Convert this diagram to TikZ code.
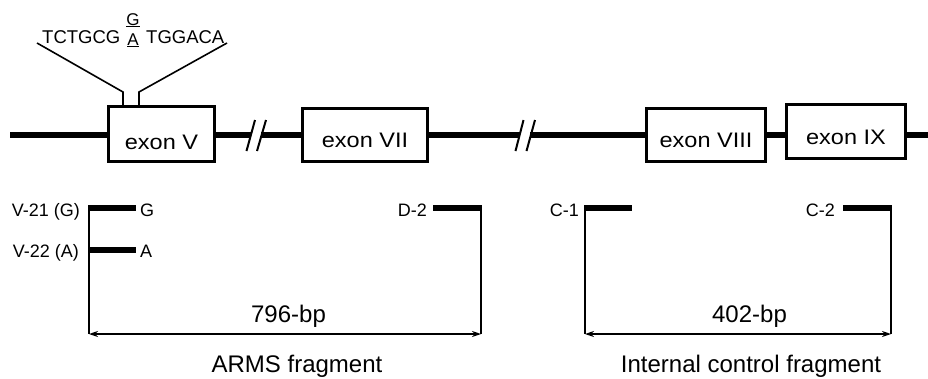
\documentclass[tikz,border=0pt]{standalone}
\usepackage{fontspec}
\setmainfont{Liberation Sans}
\usetikzlibrary{arrows.meta,calc}
\begin{document}
\begin{tikzpicture}[x=1pt,y=-1pt,
  exonbox/.style={draw, line width=3.5pt, fill=white, inner sep=0pt},
  exonlabel/.style={inner sep=0pt, font=\fontsize{21}{22}\selectfont},
  mainline/.style={line width=5.5pt},
  slash/.style={line width=2pt},
  thin/.style={line width=1.6pt},
  primer/.style={line width=5.5pt},
  small/.style={inner sep=0pt, font=\fontsize{18}{19}\selectfont},
  seq/.style={inner sep=0pt, font=\fontsize{18.5}{19}\selectfont},
  allele/.style={inner sep=0pt, font=\fontsize{17}{18}\selectfont},
  big/.style={inner sep=0pt, font=\fontsize{24}{25}\selectfont},
  dim/.style={thin, {Stealth[length=9pt,width=6pt]}-{Stealth[length=9pt,width=6pt]}}
]
\useasboundingbox (0,0) rectangle (928,378);

% main line coordinates
\coordinate (lstart) at (10,135);
\coordinate (b1a) at (251,135);
\coordinate (b1b) at (261,135);
\coordinate (b2a) at (520,135);
\coordinate (b2b) at (530,135);
\coordinate (lend) at (928,135);

% exon boxes
\node[exonbox, minimum width=106, minimum height=55,
  label={[exonlabel, yshift=-8pt]center:\scalebox{1.12}[1]{exon V}}] (exV) at (161.5,134) {};
\node[exonbox, minimum width=125, minimum height=53,
  label={[exonlabel, yshift=-5.5pt]center:\scalebox{1.12}[1]{exon VII}}] (exVII) at (365,135) {};
\node[exonbox, minimum width=119, minimum height=53,
  label={[exonlabel, yshift=-5.3pt]center:\scalebox{1.12}[1]{exon VIII}}] (exVIII) at (706,135) {};
\node[exonbox, minimum width=119, minimum height=54,
  label={[exonlabel, yshift=-5.6pt]center:\scalebox{1.12}[1]{exon IX}}] (exIX) at (846,131.5) {};

% main line pieces
\draw[mainline] (lstart) -- (lstart -| exV.west);
\draw[mainline] (b1a -| exV.east) -- (b1a);
\draw[mainline] (b1b) -- (exVII.west);
\draw[mainline] (exVII.east) -- (b2a);
\draw[mainline] (b2b) -- (exVIII.west);
\draw[mainline] (exVIII.east) -- (exVIII.east -| exIX.west);
\draw[mainline] (exVIII.east -| exIX.east) -- (lend);

% break marks
\coordinate (s1b) at (246.5,151); \coordinate (s1t) at (255,120);
\coordinate (s2b) at (257,151); \coordinate (s2t) at (266,120);
\coordinate (s3b) at (515.5,151); \coordinate (s3t) at (523.5,120);
\coordinate (s4b) at (526.5,151); \coordinate (s4t) at (535,120);
\draw[slash] (s1b) -- (s1t);
\draw[slash] (s2b) -- (s2t);
\draw[slash] (s3b) -- (s3t);
\draw[slash] (s4b) -- (s4t);

% sequence callout
\node[seq, anchor=base west] (seqL) at (42,43) {TCTGCG};
\node[seq, anchor=base west] (seqR) at (146,43) {TGGACA};
\node[allele, anchor=base] (alG) at (133,25) {\underline{G}};
\node[allele, anchor=base] (alA) at (133,45) {\underline{A}};
\coordinate (pL0) at (37,43);
\coordinate (pL1) at (123,92);
\coordinate (pR0) at (227,43);
\coordinate (pR1) at (139,92);
\draw[thin] (pL0) -- (pL1) -- (pL1 |- exV.north);
\draw[thin] (pR0) -- (pR1) -- (pR1 |- exV.north);

% ARMS primers
\coordinate (v21a) at (88,208); \coordinate (v21b) at (136,208);
\coordinate (v22a) at (88,250); \coordinate (v22b) at (136,250);
\coordinate (d2a) at (433,208); \coordinate (d2b) at (482,208);
\draw[primer] (v21a) -- (v21b);
\draw[primer] (v22a) -- (v22b);
\draw[primer] (d2a) -- (d2b);
\node[small, anchor=base east] (lv21) at (80,216) {V-21 (G)};
\node[small, anchor=base west] (lg) at (140,216) {G};
\node[small, anchor=base east] (lv22) at (79,257.5) {V-22 (A)};
\node[small, anchor=base west] (la) at (140,257.5) {A};
\node[small, anchor=base east] (ld2) at (427,216) {D-2};

\coordinate (armsL) at (89,334);
\coordinate (armsR) at (481,334);
\draw[thin] (89,206) -- (armsL);
\draw[thin] (481,206) -- (armsR);
\draw[dim] (armsL) -- (armsR);
\node[big, anchor=base] (bp796) at (288.5,322) {796-bp};
\node[big, anchor=base] (arms) at (297,372) {ARMS fragment};

% control primers
\coordinate (c1a) at (584,208); \coordinate (c1b) at (632,208);
\coordinate (c2a) at (843,208); \coordinate (c2b) at (892,208);
\draw[primer] (c1a) -- (c1b);
\draw[primer] (c2a) -- (c2b);
\node[small, anchor=base east] (lc1) at (579,216) {C-1};
\node[small, anchor=base east] (lc2) at (835,216) {C-2};

\coordinate (ctrlL) at (585,334);
\coordinate (ctrlR) at (891,334);
\draw[thin] (585,206) -- (ctrlL);
\draw[thin] (891,206) -- (ctrlR);
\draw[dim] (ctrlL) -- (ctrlR);
\node[big, anchor=base] (bp402) at (749.5,322) {402-bp};
\node[big, anchor=base] (ctrl) at (751,372) {Internal control fragment};
\end{tikzpicture}
\end{document}
